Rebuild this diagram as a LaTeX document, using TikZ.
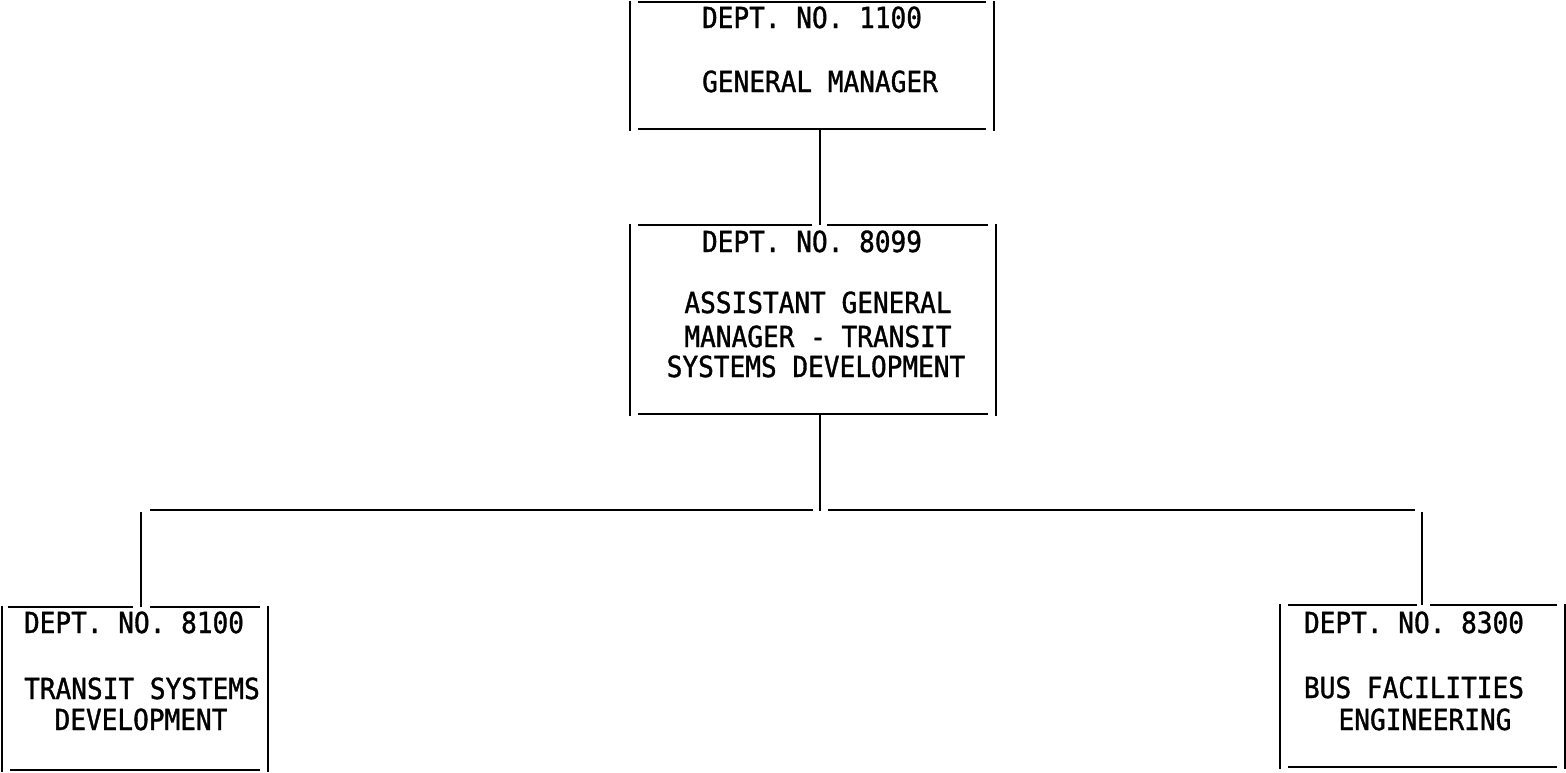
\documentclass[tikz,border=0pt]{standalone}
\usepackage{fontspec}
\newfontfamily\typewriter[FakeStretch=0.9,FakeBold=1.2]{DejaVu Sans Mono}
\begin{document}
\begin{tikzpicture}[x=1pt,y=-1pt,
  rule/.style={line width=2.4pt},
  deptbox/.style={rectangle, draw=none, inner sep=0pt},
  caption/.style={font=\typewriter\fontsize{29}{34}\selectfont, inner sep=0pt, anchor=base}]
\useasboundingbox (0,0) rectangle (1566,772);

% department boxes (outline drawn piecewise below)
\node[deptbox, minimum width=364pt, minimum height=127pt] (gm)  at (812,65.5)   {};
\node[deptbox, minimum width=366pt, minimum height=189pt] (agm) at (813,319.5)  {};
\node[deptbox, minimum width=266pt, minimum height=163pt] (tsd) at (135,688.5)  {};
\node[deptbox, minimum width=285pt, minimum height=162pt] (bfe) at (1422.5,686) {};

% box texts
\node[caption] (gm1)  at (812,28)  {DEPT. NO. 1100};
\node[caption] (gm2)  at (820,92)  {GENERAL MANAGER};
\node[caption] (agm1) at (812,252) {DEPT. NO. 8099};
\node[caption] (agm2) at (818,313) {ASSISTANT GENERAL};
\node[caption] (agm3) at (818,347) {MANAGER - TRANSIT};
\node[caption] (agm4) at (816,377) {SYSTEMS DEVELOPMENT};
\node[caption] (tsd1) at (134,633) {DEPT. NO. 8100};
\node[caption] (tsd2) at (142,699) {TRANSIT SYSTEMS};
\node[caption] (tsd3) at (141,730) {DEVELOPMENT};
\node[caption] (bfe1) at (1414,633)  {DEPT. NO. 8300};
\node[caption] (bfe2) at (1414,698)  {BUS FACILITIES};
\node[caption] (bfe3) at (1425,730)  {ENGINEERING};

% box sides: verticals run a little past the horizontals, which stop short of the corners
\foreach \b in {gm,agm,tsd,bfe}{
  \draw[rule] ([yshift=1pt]\b.north west) -- ([yshift=-2pt]\b.south west);
  \draw[rule] ([yshift=1pt]\b.north east) -- ([yshift=-2pt]\b.south east);
  \draw[rule] ([xshift=8pt]\b.south west) -- ([xshift=-8pt]\b.south east);
}
\draw[rule] ([xshift=8pt]gm.north west) -- ([xshift=-8pt]gm.north east);

% spine and branch positions
\coordinate (spine) at (820,0);
\coordinate (lbr) at (141,0);
\coordinate (rbr) at (1422,0);
\coordinate (bus) at (820,511);

% top edges broken where the connectors arrive
\draw[rule] ([xshift=8pt]agm.north west) -- (agm.north -| 812,0);
\draw[rule] (agm.north -| 827,0) -- ([xshift=-8pt]agm.north east);
\draw[rule] ([xshift=6pt]tsd.north west) -- (tsd.north -| 133,0);
\draw[rule] (tsd.north -| 150,0) -- ([xshift=-8pt]tsd.north east);
\draw[rule] ([xshift=8pt]bfe.north west) -- (bfe.north -| 1417,0);
\draw[rule] (bfe.north -| 1430,0) -- ([xshift=-8pt]bfe.north east);

% connectors
\draw[rule] (gm.south -| spine) -- (agm.north -| spine);
\draw[rule] (agm.south -| spine) -- (bus);
\draw[rule] (150,510) -- (813,510);
\draw[rule] (828,510) -- (1415,510);
\draw[rule] (lbr |- 0,512) -- (tsd.north -| lbr);
\draw[rule] (rbr |- 0,512) -- (bfe.north -| rbr);
\end{tikzpicture}
\end{document}
